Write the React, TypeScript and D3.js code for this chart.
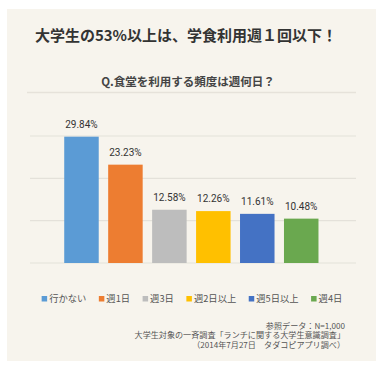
import React, { useEffect, useRef } from "react";
import * as d3 from "d3";

const title = "大学生の53%以上は、学食利用週１回以下！";
const subtitle = "Q.食堂を利用する頻度は週何日？";
const categories = ["行かない", "週1日", "週3日", "週2日以上", "週5日以上", "週4日"];
const values = [29.84, 23.23, 12.58, 12.26, 11.61, 10.48];
const colors = ["#5b9bd5", "#ed7d31", "#bdbdbd", "#ffc000", "#4472c4", "#6aa84f"];
const yTicks = [0, 10, 20, 30];
const notes = [
  "参照データ：N=1,000",
  "大学生対象の一斉調査「ランチに関する大学生意識調査」",
  "（2014年7月27日　タダコピアプリ調べ）",
];

const W = 384;
const H = 371;
const JP = "'Noto Sans CJK JP', 'Noto Sans', sans-serif";

export default function App() {
  const ref = useRef<SVGSVGElement>(null);

  useEffect(() => {
    const svg = d3.select(ref.current);
    svg.selectAll("*").remove();

    svg.append("rect").attr("width", W).attr("height", H).attr("fill", "#ffffff");
    svg.append("rect").attr("x", 7).attr("y", 9).attr("width", 369).attr("height", 352).attr("fill", "#f7f4ed");

    svg.append("text").attr("x", 186).attr("y", 40.5).attr("text-anchor", "middle")
      .attr("font-family", JP).attr("font-size", 15).attr("font-weight", 700).attr("fill", "#333")
      .text(title);

    svg.append("text").attr("x", 188).attr("y", 85.5).attr("text-anchor", "middle")
      .attr("font-family", JP).attr("font-size", 11.5).attr("font-weight", 700).attr("fill", "#444")
      .text(subtitle);

    svg.append("line").attr("x1", 27).attr("x2", 356).attr("y1", 92.5).attr("y2", 92.5)
      .attr("stroke", "#e6e2da").attr("stroke-width", 1.5);

    const x = d3.scaleBand<string>().domain(categories).range([59.5, 323.2])
      .paddingInner(0.215).paddingOuter(0.1075);
    const y = d3.scaleLinear().domain([0, 30]).range([263, 136]);

    svg.append("g").selectAll("line").data(yTicks).join("line")
      .attr("x1", 30).attr("x2", 356)
      .attr("y1", (d) => y(d)).attr("y2", (d) => y(d))
      .attr("stroke", "#e4e1da").attr("stroke-width", 1.2);

    const data = categories.map((c, i) => ({ c, v: values[i], col: colors[i] }));

    svg.append("g").selectAll("rect").data(data).join("rect")
      .attr("x", (d) => x(d.c)!)
      .attr("width", x.bandwidth())
      .attr("y", (d) => y(d.v))
      .attr("height", (d) => y(0) - y(d.v))
      .attr("fill", (d) => d.col);

    svg.append("g").selectAll("text").data(data).join("text")
      .attr("x", (d) => x(d.c)! + x.bandwidth() / 2)
      .attr("y", (d) => y(d.v) - 9)
      .attr("text-anchor", "middle")
      .attr("font-family", "Roboto, sans-serif")
      .attr("font-size", 10)
      .attr("fill", "#333")
      .text((d) => d.v.toFixed(2) + "%");

    // legend
    const lg = svg.append("g");
    const items = data.map((d) => {
      const g = lg.append("g");
      g.append("rect").attr("width", 5.5).attr("height", 5.5).attr("y", -5).attr("fill", d.col);
      const t = g.append("text").attr("x", 7.5).attr("y", 0.5)
        .attr("font-family", JP).attr("font-size", 9.3).attr("fill", "#555").text(d.c);
      const w = (t.node() as SVGTextElement).getComputedTextLength() + 7.5;
      return { g, w };
    });
    const gap = 12.5;
    const total = d3.sum(items, (it) => it.w) + gap * (items.length - 1);
    let cx = 192 - total / 2;
    items.forEach((it) => {
      it.g.attr("transform", `translate(${cx},301)`);
      cx += it.w + gap;
    });

    svg.append("g").selectAll("text").data(notes).join("text")
      .attr("x", 345)
      .attr("y", (_d, i) => 328.5 + i * 9.6)
      .attr("text-anchor", "end")
      .attr("font-family", JP).attr("font-size", 8.1).attr("fill", "#555")
      .text((d) => d);
  }, []);

  return (
    <svg ref={ref} width={W} height={H} style={{ position: "absolute", left: 0, top: 0 }} />
  );
}
